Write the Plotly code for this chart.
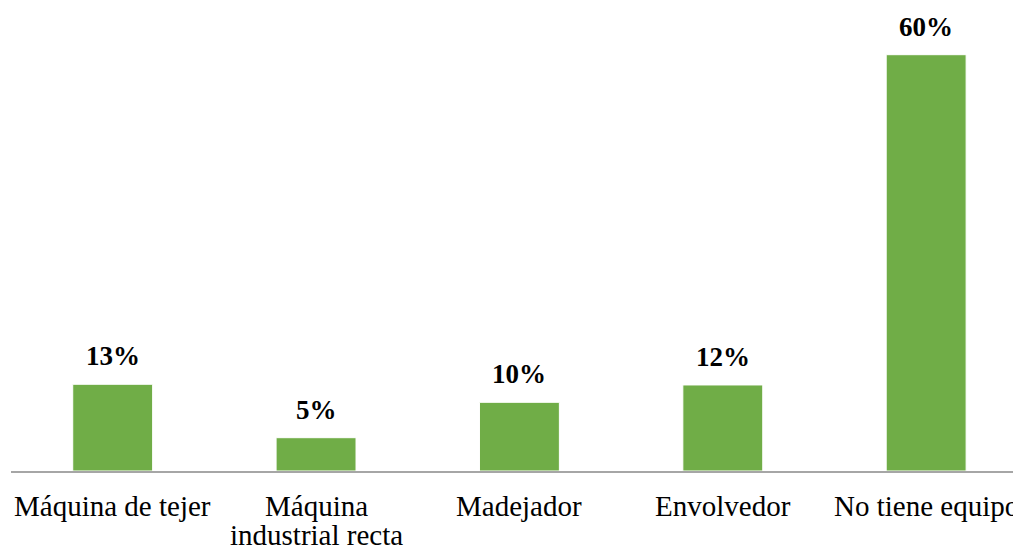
import plotly.graph_objects as go

categories = ["Máquina de tejer", "Máquina<br>industrial recta", "Madejador", "Envolvedor", "No tiene equipo"]
values = [12.5, 4.8, 9.9, 12.4, 60.0]
labels = ["13%", "5%", "10%", "12%", "60%"]

GREEN = "#70AD47"
FONT = "Liberation Serif, Times New Roman, serif"

fig = go.Figure()
fig.add_trace(go.Bar(
    x=list(range(len(categories))),
    y=values,
    marker=dict(color=GREEN, line=dict(color="#FFFFFF", width=1)),
    hoverinfo="skip",
))

annotations = []
for i, (v, lab) in enumerate(zip(values, labels)):
    annotations.append(dict(
        x=i, y=v, xref="x", yref="y", text="<b>%s</b>" % lab,
        showarrow=False, yanchor="bottom", yshift=11,
        font=dict(family=FONT, size=27, color="#000000"),
    ))
for i, cat in enumerate(categories):
    for j, line in enumerate(cat.split("<br>")):
        annotations.append(dict(
            x=i, y=0, xref="x", yref="paper", text=line,
            showarrow=False, yanchor="top", yshift=-17 - 29 * j,
            font=dict(family=FONT, size=29, color="#000000"),
        ))

fig.update_layout(
    width=1013, height=551,
    margin=dict(l=11, r=0, t=20, b=80),
    paper_bgcolor="white", plot_bgcolor="white",
    bargap=0.607,
    showlegend=False,
    annotations=annotations,
    xaxis=dict(range=[-0.5, 4.427], showticklabels=False, showgrid=False,
               zeroline=False, showline=True, linecolor="#A6A6A6", linewidth=2,
               ticks="", fixedrange=True),
    yaxis=dict(range=[0, 65], visible=False, showgrid=False, zeroline=False,
               fixedrange=True),
)

fig.write_html("out.html", config={"displayModeBar": False})
